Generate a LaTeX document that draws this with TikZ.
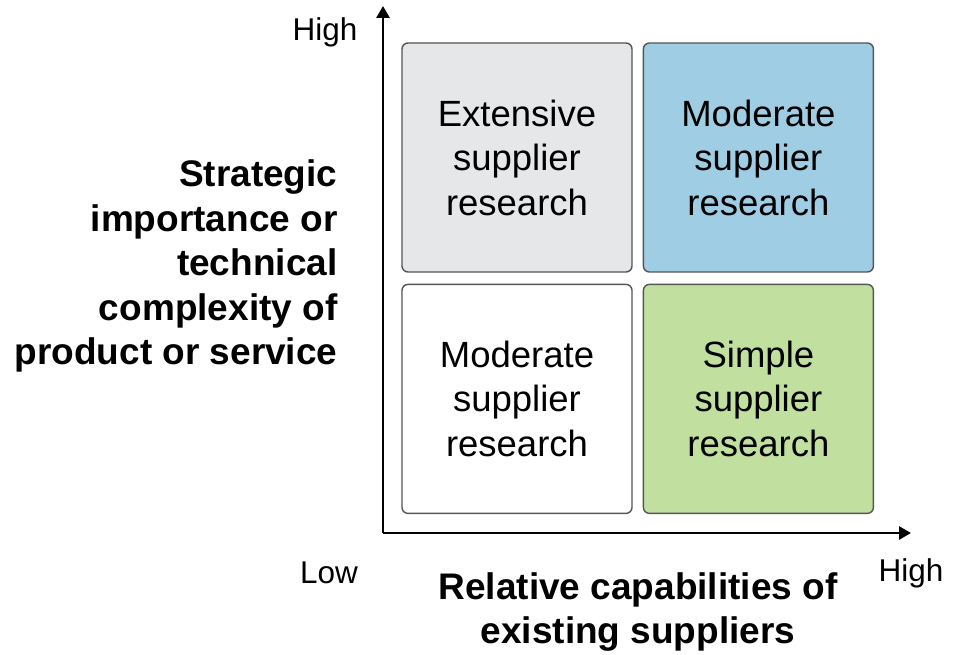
\documentclass[tikz,border=0pt]{standalone}
\usepackage{fontspec}
\setmainfont{Liberation Sans}
\usepackage{tikz}
\usetikzlibrary{positioning,arrows.meta}

\definecolor{boxgray}{HTML}{E6E7E9}
\definecolor{boxblue}{HTML}{9ECDE4}
\definecolor{boxgreen}{HTML}{C1E09F}
\definecolor{boxline}{HTML}{555555}

\begin{document}
\begin{tikzpicture}[x=1pt,y=1pt,
    quad/.style={draw=boxline,line width=1.4pt,rounded corners=6pt,minimum width=230pt,minimum height=229pt,inner sep=0pt,align=center,font=\fontsize{36.5}{44.5}\selectfont},
    axis/.style={line width=2.8pt,-{Triangle[width=13pt,length=12pt]}},
    tick/.style={font=\fontsize{31.5}{38}\selectfont},
    axislabel/.style={font=\fontsize{37}{44.5}\selectfont\bfseries}]
            \useasboundingbox (0,0) rectangle (955,654);
            \node[quad,fill=boxgray] (ext) at (517,496.5) {Extensive\\supplier\\research};
            \node[quad,fill=boxblue] (modhi) [right=10pt of ext] {Moderate\\supplier\\research};
            \node[quad,fill=white] (modlo) [below=11pt of ext] {Moderate\\supplier\\research};
            \node[quad,fill=boxgreen] (simple) [below=11pt of modhi] {Simple\\supplier\\research};

            \coordinate (o) at (383,121);
            \coordinate (ytop) at (383,648);
            \coordinate (xend) at (911,121);
            \draw[axis] (o) -- (ytop);
            \draw[axis] (o) -- (xend);

            \node[tick] (yhigh) at (325,622) {High};
            \node[tick] (xlow) at (329,81) {Low};
            \node[tick] (xhigh) at (911,81) {High};
            \node[axislabel,align=right,anchor=east] (ylab) at (341,388) {Strategic\\importance or\\technical\\complexity of\\product or service};
            \node[axislabel,align=center] (xlab) at (638,42) {Relative capabilities of\\existing suppliers};
        \end{tikzpicture}
\end{document}
